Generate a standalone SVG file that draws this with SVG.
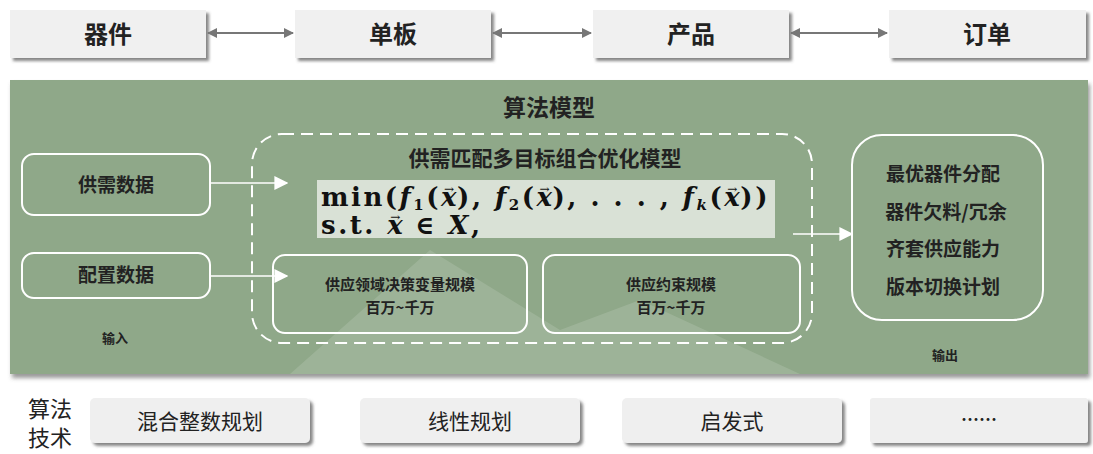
<svg xmlns="http://www.w3.org/2000/svg" width="1093" height="454" viewBox="0 0 1093 454">
<defs>
<filter id="sh" x="-10%" y="-20%" width="130%" height="160%">
<feDropShadow dx="3" dy="3" stdDeviation="1.8" flood-color="#555" flood-opacity="0.7"/>
</filter>
<filter id="sh2" x="-5%" y="-5%" width="110%" height="115%">
<feDropShadow dx="2" dy="4" stdDeviation="2" flood-color="#555" flood-opacity="0.6"/>
</filter>
<marker id="ga" viewBox="0 0 10 10" refX="9" refY="5" markerWidth="10" markerHeight="10" markerUnits="userSpaceOnUse" orient="auto-start-reverse">
<path d="M0,0 L10,5 L0,10 z" fill="#777"/>
</marker>
<marker id="wa" viewBox="0 0 10 10" refX="9" refY="5" markerWidth="14" markerHeight="14" markerUnits="userSpaceOnUse" orient="auto">
<path d="M0,0 L10,5 L0,10 z" fill="#fff"/>
</marker>
</defs>
<style>
.cn{font-family:"Noto Sans CJK SC","Noto Sans",sans-serif;fill:#222;text-anchor:middle}
.top{fill:#f0f0f0;filter:url(#sh)}
.bot{fill:#efefef;filter:url(#sh)}
.wb{fill:none;stroke:#fff;stroke-width:2}
.math{font-family:"DejaVu Serif","Liberation Serif",serif;font-weight:bold;fill:#111;font-size:26px;letter-spacing:2.5px}
.it{font-style:italic}
.sub{font-size:15px}
.vec{font-size:12px;font-weight:normal;letter-spacing:0}
</style>
<rect width="1093" height="454" fill="#fff"/>

<!-- top row -->
<g id="n-qijian"><rect class="top" x="10" y="10" width="196" height="48"/><text class="cn" x="108" y="43" font-size="24" font-weight="bold">器件</text></g>
<g id="n-danban"><rect class="top" x="295" y="10" width="196" height="48"/><text class="cn" x="393" y="43" font-size="24" font-weight="bold">单板</text></g>
<g id="n-chanpin"><rect class="top" x="593" y="10" width="196" height="48"/><text class="cn" x="691" y="43" font-size="24" font-weight="bold">产品</text></g>
<g id="n-dingdan"><rect class="top" x="889" y="10" width="197" height="48"/><text class="cn" x="987" y="43" font-size="24" font-weight="bold">订单</text></g>

<!-- green panel -->
<g id="panel">
<rect x="10" y="80" width="1078" height="294" fill="#8fa889" filter="url(#sh2)"/>
<polygon points="290,374 430,250 560,330 640,300 800,374" fill="#fff" opacity="0.13"/>
<text class="cn" x="549" y="116" font-size="23" font-weight="bold">算法模型</text>
<text class="cn" x="115" y="343" font-size="13" font-weight="bold" fill="#333">输入</text>
<text class="cn" x="945" y="360" font-size="13" font-weight="bold" fill="#333">输出</text>
</g>

<g id="n-gongxu"><rect class="wb" x="22" y="154" width="188" height="61" rx="12"/><text class="cn" x="116" y="192" font-size="19" font-weight="bold">供需数据</text></g>
<g id="n-peizhi"><rect class="wb" x="22" y="253" width="188" height="45" rx="12"/><text class="cn" x="116" y="282" font-size="19" font-weight="bold">配置数据</text></g>

<g id="n-model">
<rect x="252" y="134" width="560" height="209" rx="30" fill="none" stroke="#fff" stroke-width="2" stroke-dasharray="12,7"/>
<text class="cn" x="545" y="166" font-size="21" font-weight="bold">供需匹配多目标组合优化模型</text>
<rect x="317" y="180" width="458" height="58" fill="#d9e1d6"/>
<text class="math" x="321" y="206">min(<tspan class="it">f</tspan><tspan class="sub" dy="4">1</tspan><tspan dy="-4">(</tspan><tspan class="it">x</tspan><tspan class="vec" dx="-15" dy="-13">→</tspan><tspan dy="13" dx="3">), </tspan><tspan class="it">f</tspan><tspan class="sub" dy="4">2</tspan><tspan dy="-4">(</tspan><tspan class="it">x</tspan><tspan class="vec" dx="-15" dy="-13">→</tspan><tspan dy="13" dx="3">), . . . , </tspan><tspan class="it">f</tspan><tspan class="sub it" dy="4">k</tspan><tspan dy="-4">(</tspan><tspan class="it">x</tspan><tspan class="vec" dx="-15" dy="-13">→</tspan><tspan dy="13" dx="3">))</tspan></text>
<text class="math" x="321" y="234">s.t. <tspan class="it">x</tspan><tspan class="vec" dx="-15" dy="-13">→</tspan><tspan dy="13" dx="3"> ∈ </tspan><tspan class="it">X</tspan>,</text>
</g>

<g id="n-var"><rect class="wb" x="273" y="255" width="254" height="78" rx="12"/><text class="cn" x="400" y="290" font-size="15" font-weight="bold">供应领域决策变量规模</text><text class="cn" x="400" y="313" font-size="15" font-weight="bold">百万~千万</text></g>
<g id="n-cons"><rect class="wb" x="543" y="255" width="257" height="78" rx="12"/><text class="cn" x="671" y="290" font-size="15" font-weight="bold" fill="#333">供应约束规模</text><text class="cn" x="671" y="313" font-size="15" font-weight="bold">百万~千万</text></g>

<g id="n-out">
<rect class="wb" x="852" y="135" width="191" height="185" rx="30"/>
<text class="cn" x="943" y="181" font-size="19" font-weight="bold">最优器件分配</text>
<text class="cn" x="946" y="219" font-size="19" font-weight="bold">器件欠料/冗余</text>
<text class="cn" x="943" y="256" font-size="19" font-weight="bold">齐套供应能力</text>
<text class="cn" x="943" y="294" font-size="19" font-weight="bold">版本切换计划</text>
</g>

<!-- bottom row -->
<g id="n-label"><text class="cn" x="50" y="417" font-size="22">算法</text><text class="cn" x="50" y="446" font-size="22">技术</text></g>
<g id="n-mip"><rect class="bot" x="90" y="398" width="220" height="45" rx="5"/><text class="cn" x="200" y="429" font-size="21">混合整数规划</text></g>
<g id="n-lp"><rect class="bot" x="360" y="398" width="220" height="45" rx="5"/><text class="cn" x="470" y="429" font-size="21">线性规划</text></g>
<g id="n-heur"><rect class="bot" x="622" y="398" width="220" height="45" rx="5"/><text class="cn" x="732" y="429" font-size="21">启发式</text></g>
<g id="n-more"><rect class="bot" x="870" y="398" width="218" height="45" rx="3"/><text class="cn" x="979" y="426" font-size="18" font-weight="bold">……</text></g>

<!-- connectors -->
<g id="connectors" fill="none">
<line x1="208" y1="33" x2="293" y2="33" stroke="#777" stroke-width="2" marker-start="url(#ga)" marker-end="url(#ga)"/>
<line x1="493" y1="33" x2="591" y2="33" stroke="#777" stroke-width="2" marker-start="url(#ga)" marker-end="url(#ga)"/>
<line x1="791" y1="33" x2="887" y2="33" stroke="#777" stroke-width="2" marker-start="url(#ga)" marker-end="url(#ga)"/>
<line x1="210" y1="183" x2="287" y2="183" stroke="#fff" stroke-width="1.5" marker-end="url(#wa)"/>
<line x1="210" y1="276" x2="287" y2="276" stroke="#fff" stroke-width="1.5" marker-end="url(#wa)"/>
<line x1="793" y1="234" x2="852" y2="234" stroke="#fff" stroke-width="1.5" marker-end="url(#wa)"/>
</g>
</svg>
